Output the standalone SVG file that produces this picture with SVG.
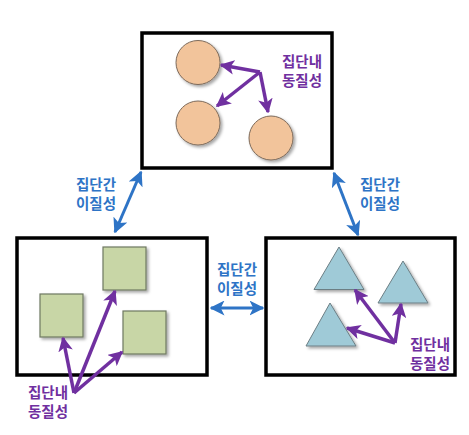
<svg xmlns="http://www.w3.org/2000/svg" width="469" height="435" viewBox="0 0 469 435">
<style>
.box{fill:#fff;stroke:#000;stroke-width:3.5}
.circ{fill:#F2C49B;stroke:#7d6a5a;stroke-width:1}
.sq{fill:#C8D6A6;stroke:#6f7862;stroke-width:1.2}
.tri{fill:#9FCAD7;stroke:#6c7e84;stroke-width:1}
.pa{stroke:#7030A0;stroke-width:3.5;fill:none;marker-end:url(#pa)}
.ba{stroke:#2E74C6;stroke-width:3;fill:none;marker-end:url(#ba);marker-start:url(#bs)}
.pt{font-family:"Noto Sans CJK KR","Noto Sans",sans-serif;font-size:14.5px;font-weight:bold;fill:#7030A0;text-anchor:middle}
.bt{font-family:"Noto Sans CJK KR","Noto Sans",sans-serif;font-size:14.5px;font-weight:bold;fill:#2E74C6;text-anchor:middle}
</style>
<defs>
<filter id="sh" x="-20%" y="-20%" width="150%" height="150%">
<feDropShadow dx="2" dy="2" stdDeviation="1.5" flood-color="#000" flood-opacity="0.35"/>
</filter>
<marker id="pa" viewBox="0 0 10 10" refX="9" refY="5" markerWidth="4.2" markerHeight="4.2" orient="auto" markerUnits="strokeWidth">
<path d="M0,0 L10,5 L0,10 L2.5,5 z" fill="#7030A0"/>
</marker>
<marker id="ba" viewBox="0 0 10 10" refX="9" refY="5" markerWidth="5" markerHeight="5" orient="auto" markerUnits="strokeWidth">
<path d="M0,0 L10,5 L0,10 L2.5,5 z" fill="#2E74C6"/>
</marker>
<marker id="bs" viewBox="0 0 10 10" refX="1" refY="5" markerWidth="5" markerHeight="5" orient="auto" markerUnits="strokeWidth">
<path d="M10,0 L0,5 L10,10 L7.5,5 z" fill="#2E74C6"/>
</marker>
</defs>

<g id="top-group">
<rect class="box" x="142" y="33" width="190" height="135"/>
<g filter="url(#sh)">
<circle class="circ" cx="198" cy="62.5" r="22"/>
<circle class="circ" cx="198" cy="123" r="22"/>
<circle class="circ" cx="271" cy="138" r="22"/>
</g>
<text class="pt" x="302" y="67">집단내</text>
<text class="pt" x="302" y="86">동질성</text>
</g>

<g id="left-group">
<rect class="box" x="17" y="238" width="190" height="137"/>
<g filter="url(#sh)">
<rect class="sq" x="103" y="247" width="43" height="43"/>
<rect class="sq" x="40" y="294" width="43" height="43"/>
<rect class="sq" x="123" y="311" width="43" height="43"/>
</g>
<text class="pt" x="48" y="398">집단내</text>
<text class="pt" x="48" y="417">동질성</text>
</g>

<g id="right-group">
<rect class="box" x="266" y="238" width="189" height="137"/>
<g filter="url(#sh)">
<polygon class="tri" points="339,247 364,289.5 314,289.5"/>
<polygon class="tri" points="403,261 428,303 378,303"/>
<polygon class="tri" points="330,303 356,346 306,346"/>
</g>
<text class="pt" x="430" y="350">집단내</text>
<text class="pt" x="430" y="369">동질성</text>
</g>

<g id="between-labels">
<text class="bt" x="96" y="190">집단간</text>
<text class="bt" x="96" y="209">이질성</text>
<text class="bt" x="380" y="190">집단간</text>
<text class="bt" x="380" y="209">이질성</text>
<text class="bt" x="237" y="275">집단간</text>
<text class="bt" x="237" y="294">이질성</text>
</g>

<g id="connectors">
<line class="pa" x1="260" y1="72" x2="221" y2="65"/>
<line class="pa" x1="260" y1="72" x2="217" y2="106"/>
<line class="pa" x1="260" y1="72" x2="268" y2="112"/>
<line class="pa" x1="74" y1="393" x2="63" y2="338"/>
<line class="pa" x1="74" y1="393" x2="115" y2="291"/>
<line class="pa" x1="74" y1="393" x2="122" y2="352"/>
<line class="pa" x1="395" y1="343" x2="355" y2="290"/>
<line class="pa" x1="395" y1="343" x2="401" y2="304"/>
<line class="pa" x1="395" y1="343" x2="347" y2="328"/>
<line class="ba" x1="115" y1="232" x2="141" y2="172"/>
<line class="ba" x1="334" y1="173" x2="358" y2="235"/>
<line class="ba" x1="211" y1="308" x2="263" y2="308"/>
</g>
</svg>
